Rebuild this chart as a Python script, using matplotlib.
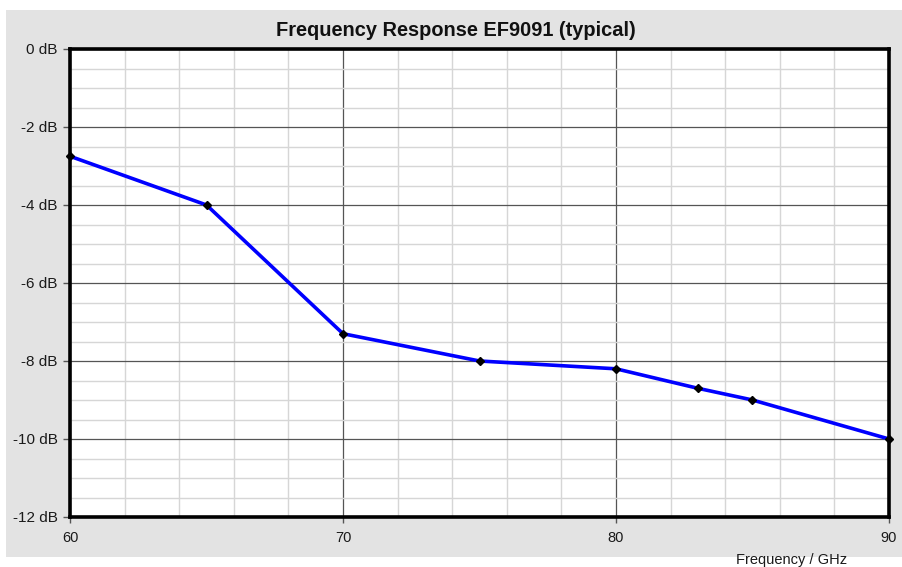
import matplotlib
matplotlib.use("Agg")
import matplotlib.pyplot as plt
from matplotlib.patches import Rectangle
from matplotlib.ticker import MultipleLocator, FuncFormatter

freq_ghz = [60, 65, 70, 75, 80, 83, 85, 90]
response_db = [-2.75, -4.0, -7.3, -8.0, -8.2, -8.7, -9.0, -10.0]

plt.rcParams['font.family'] = ['Liberation Sans', 'DejaVu Sans']

fig = plt.figure(figsize=(9.03, 5.67), dpi=100, facecolor='white')
# grey panel behind the plot
fig.patches.append(Rectangle((6 / 903, 10 / 567), 897 / 903, 547 / 567,
                             transform=fig.transFigure, facecolor='#e3e3e3',
                             edgecolor='none', zorder=-10))

ax = fig.add_axes([70 / 903, 50 / 567, 819 / 903, 468 / 567])
ax.set_facecolor('white')

ax.set_xlim(60, 90)
ax.set_ylim(-12, 0)
ax.xaxis.set_major_locator(MultipleLocator(10))
ax.xaxis.set_minor_locator(MultipleLocator(2))
ax.yaxis.set_major_locator(MultipleLocator(2))
ax.yaxis.set_minor_locator(MultipleLocator(0.5))
ax.yaxis.set_major_formatter(FuncFormatter(lambda v, p: f'{v:.0f} dB'))

ax.grid(True, which='minor', color='#d6d6d6', linewidth=1.0)
ax.grid(True, which='major', color='#555555', linewidth=0.9)
ax.set_axisbelow(True)

ax.plot(freq_ghz, response_db, '-', color='#0000ff', linewidth=2.6, zorder=3)
ax.plot(freq_ghz, response_db, 'D', color='black', markersize=4, zorder=4,
        clip_on=False)

for s in ax.spines.values():
    s.set_linewidth(2.6)
    s.set_color('black')
    s.set_zorder(5)

ax.tick_params(which='minor', length=0)
ax.tick_params(which='major', direction='out', width=1, colors='#555555',
               labelcolor='#1a1a1a')
ax.tick_params(axis='y', length=5, pad=4, labelsize=11)
ax.tick_params(axis='x', length=4, pad=6, labelsize=10.5)

# title is centred on the grey panel, not on the axes
fig.text(456 / 903, 1 - 30 / 567, 'Frequency Response EF9091 (typical)',
         fontsize=14.4, fontweight='bold', ha='center', va='center',
         color='#111111')
fig.text(792 / 903, 1 - 560 / 567, 'Frequency / GHz', fontsize=10.5,
         ha='center', va='center', color='#1a1a1a')

fig.savefig('out.png', dpi=100, facecolor='white')
